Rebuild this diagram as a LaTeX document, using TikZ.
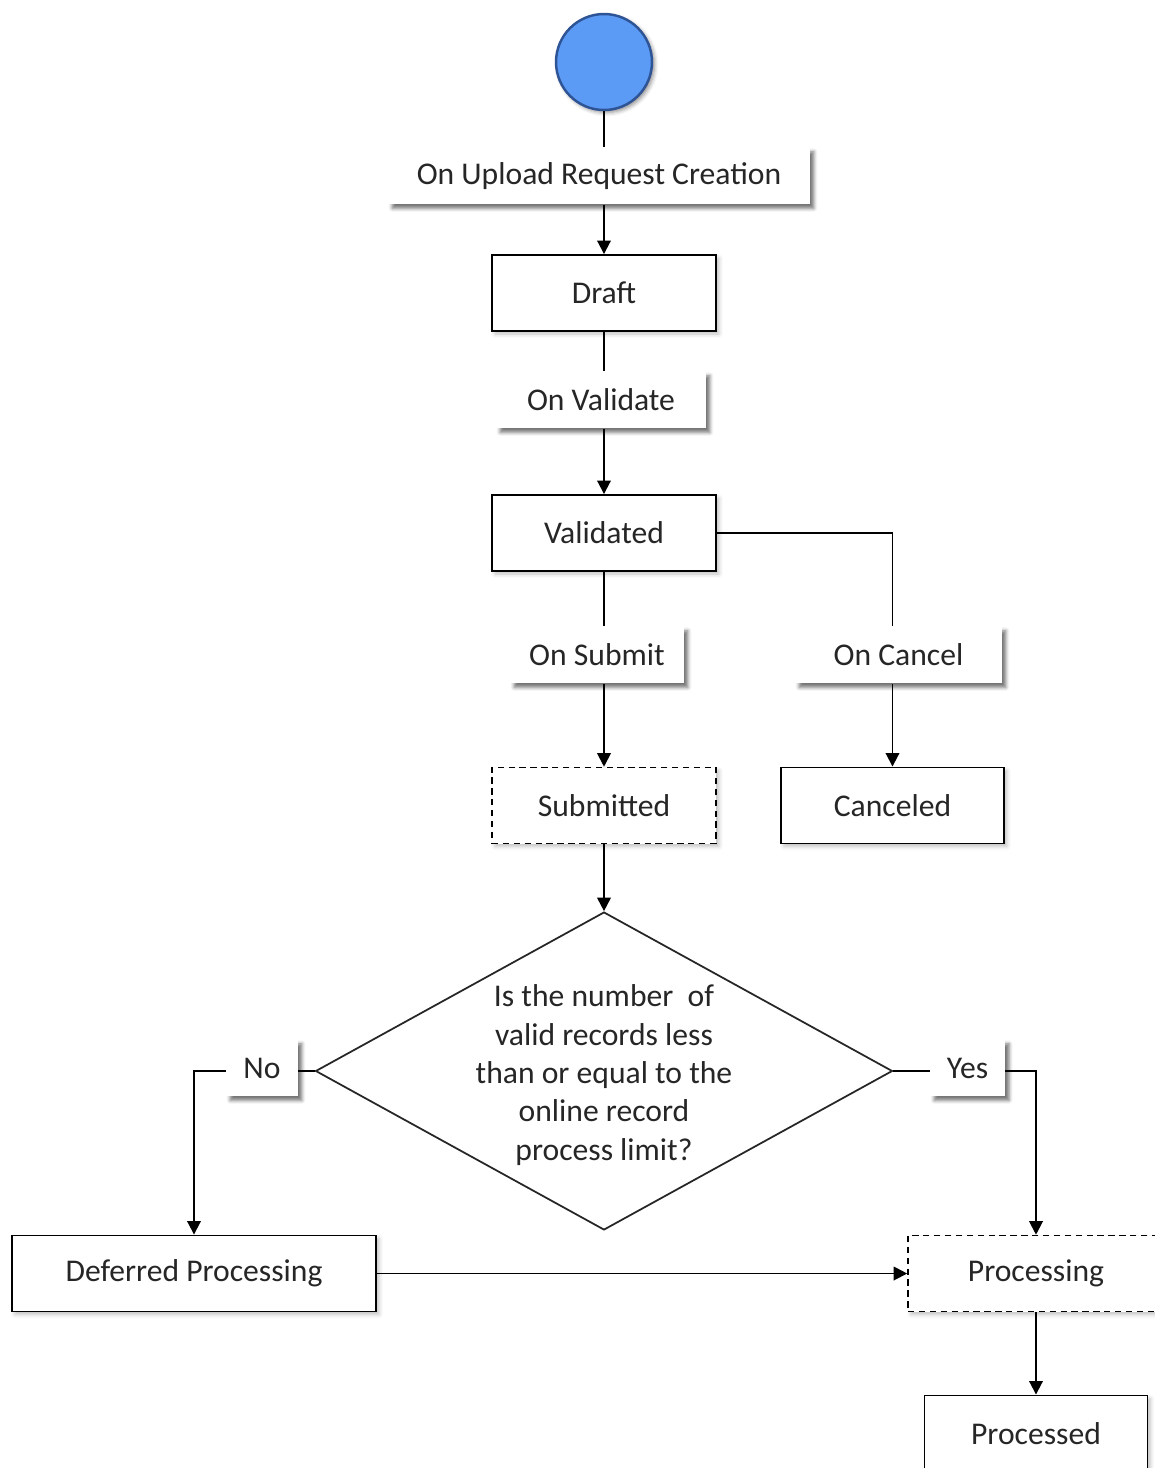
\documentclass[tikz,border=0pt]{standalone}
\usepackage{fontspec}
\setmainfont{Carlito}
\usepackage{xcolor}
\definecolor{startfill}{RGB}{ 91, 155, 245}
\definecolor{startline}{RGB}{ 46,  84, 150}
\definecolor{inkgray}{RGB}{ 38,  38,  38}
\usepackage{tikz}
\usetikzlibrary{
  shapes.geometric, arrows.meta, positioning,
  calc, shadows.blur
}
\tikzset{
  startnode/.style={circle, draw=startline, fill=startfill,
    line width=1.4pt, minimum size=1.92cm,
    blur shadow={shadow xshift=0.05cm, shadow yshift=-0.05cm,
      shadow blur radius=0.08cm, shadow opacity=45}},
  statebox/.style={draw=black, fill=white, line width=1.1pt,
    minimum width=4.48cm, minimum height=1.52cm, align=center,
    font=\fontsize{18}{22}\selectfont, text=inkgray,
    blur shadow={shadow xshift=0.06cm, shadow yshift=-0.06cm,
      shadow blur radius=0.08cm, shadow opacity=25}},
  pendingbox/.style={statebox, line width=0.9pt,
    dash pattern=on 3.6pt off 2.6pt},
  eventbox/.style={fill=white, minimum height=1.13cm, align=center,
    font=\fontsize{18}{22}\selectfont, text=inkgray,
    blur shadow={shadow xshift=0.08cm, shadow yshift=-0.08cm,
      shadow blur radius=0.07cm, shadow opacity=55}},
  decisionbox/.style={diamond, draw=black!85, fill=white, line width=1pt,
    minimum width=11.54cm, minimum height=6.36cm, inner sep=0pt},
  flowline/.style={line width=1.1pt, color=black},
  flowarrow/.style={flowline, -{Triangle[width=0.27cm, length=0.27cm]}}
}

\begin{document}
\begin{tikzpicture}[x=0.02cm, y=-0.02cm]

  \useasboundingbox (0,0) rectangle (1155,1468);

  %% Main column
  \node[startnode] (start) at (604,62) {};
  \node[eventbox, minimum width=8.44cm] (create) at (599,176)
    {On Upload Request Creation};
  \node[statebox] (draft) at (604,293) {Draft};
  \node[eventbox, minimum width=4.2cm] (validate) at (601,400) {On Validate};
  \node[statebox] (validated) at (604,533) {Validated};
  \node[eventbox, minimum width=3.48cm] (submit) at (597,655) {On Submit};
  \node[pendingbox] (submitted) at (604,805.5) {Submitted};

  %% Cancel branch
  \node[eventbox, minimum width=4.14cm] (cancel) at (898.5,655) {On Cancel};
  \node[statebox, minimum width=4.46cm] (canceled) at (892.5,805.5) {Canceled};

  %% Decision
  \node[decisionbox] (check) at (604,1071)
    [label={[align=center, font=\fontsize{18}{21.8}\selectfont, text=inkgray,
      yshift=-0.08cm]center:Is the number~ of\\valid records less\\
      than or equal to the\\online record\\process limit?}] {};

  \node[eventbox, minimum width=1.44cm] (no) at (262,1068) {No};
  \node[eventbox, minimum width=1.5cm] (yes) at (967.5,1068) {Yes};

  %% Bottom row
  \node[statebox, minimum width=7.28cm] (deferred) at (194,1273.5)
    {Deferred Processing};
  \node[pendingbox, minimum width=5.12cm] (processing) at (1036,1273.5)
    {Processing};
  \node[statebox, minimum width=4.46cm] (processed) at (1036,1433.5)
    {Processed};

  %% Connectors
  \draw[flowline] (start) -- (start |- create.north);
  \draw[flowarrow] (draft.north |- create.south) -- (draft.north);
  \draw[flowline] (draft) -- (draft |- validate.north);
  \draw[flowarrow] (validated.north |- validate.south) -- (validated.north);
  \draw[flowline] (validated) -- (validated |- submit.north);
  \draw[flowarrow] (submitted.north |- submit.south) -- (submitted.north);
  \draw[flowline] (validated.east) -| (canceled.north |- cancel.north);
  \draw[flowarrow] (canceled.north |- cancel.south) -- (canceled.north);
  \draw[flowarrow] (submitted) -- (check.north);
  \draw[flowline] (check.west) -- (check.west -| no.east);
  \draw[flowarrow] (check.west -| no.west) -| (deferred.north);
  \draw[flowline] (check.east) -- (check.east -| yes.west);
  \draw[flowarrow] (check.east -| yes.east) -| (processing.north);
  \draw[flowarrow] (deferred) -- (processing);
  \draw[flowarrow] (processing) -- (processed);

\end{tikzpicture}
\end{document}
